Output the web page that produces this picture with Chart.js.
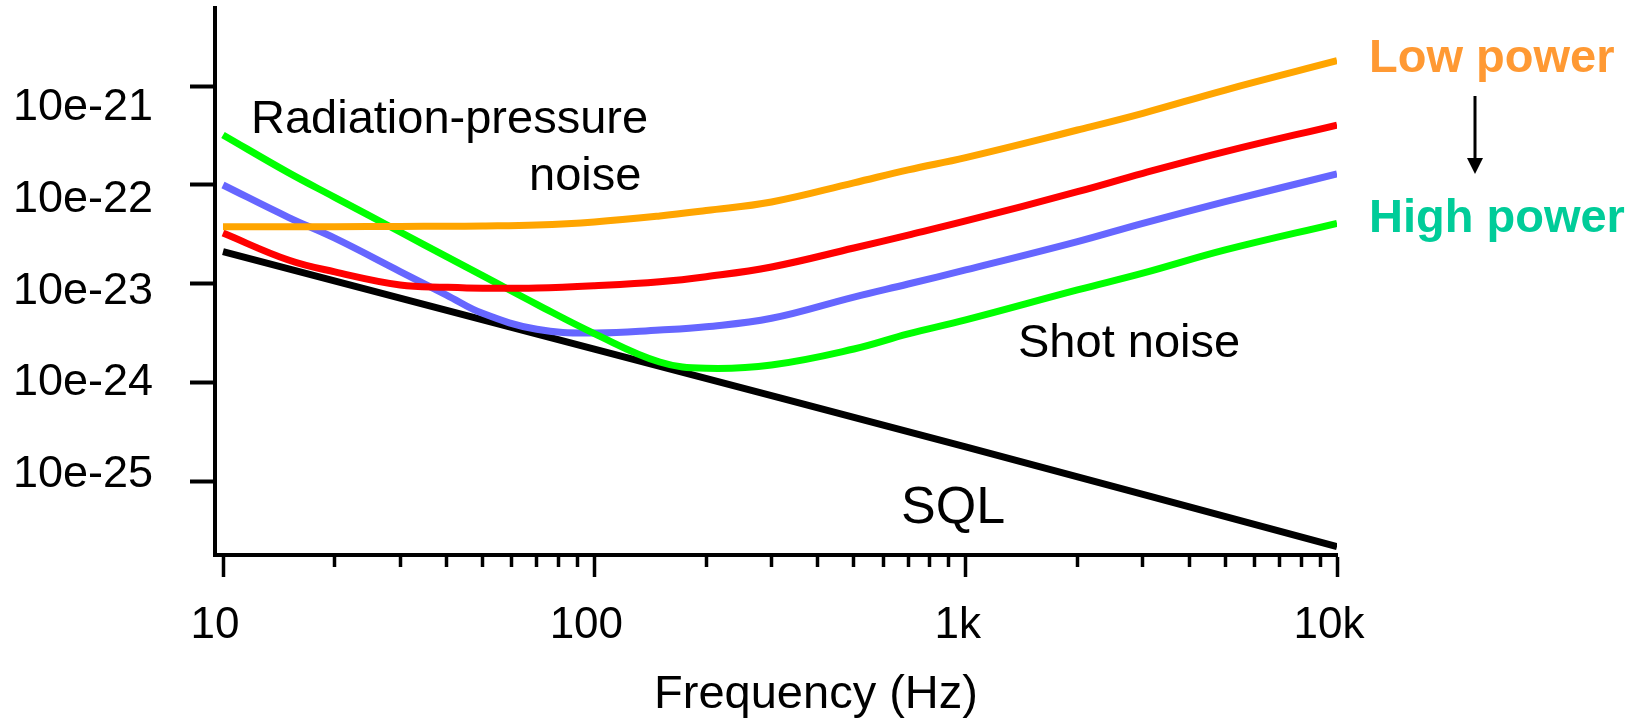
<!DOCTYPE html>
<html>
<head>
<meta charset="utf-8">
<script src="https://cdn.jsdelivr.net/npm/chart.js@4.4.1/dist/chart.umd.min.js"></script>
<style>
  html, body { margin: 0; padding: 0; background: #fff; }
  #wrap { width: 1644px; height: 718px; }
</style>
</head>
<body>
<div id="wrap"><canvas id="noise"></canvas></div>
<script>
// Frequencies (Hz) at which the curves were read
const freqs = [10, 15, 20, 30, 40, 50, 70, 100, 150, 200, 300, 500, 700, 1000, 2000, 3000, 5000, 10000];
// Strain noise for four laser powers, low -> high
const lowPower = [3.78e-23, 3.78e-23, 3.78e-23, 3.80e-23, 3.82e-23, 3.84e-23, 3.93e-23, 4.22e-23, 4.85e-23, 5.51e-23, 6.72e-23, 1.05e-22, 1.42e-22, 1.89e-22, 3.59e-22, 5.30e-22, 9.11e-22, 1.80e-21];
const midLowPower = [3.26e-23, 1.74e-23, 1.32e-23, 9.73e-24, 9.22e-24, 9.01e-24, 9.07e-24, 9.57e-24, 1.05e-23, 1.18e-23, 1.48e-23, 2.30e-23, 3.11e-23, 4.32e-23, 8.54e-23, 1.31e-22, 2.17e-22, 4.03e-22];
const midHighPower = [9.98e-23, 4.70e-23, 2.89e-23, 1.33e-23, 7.70e-24, 5.03e-24, 3.47e-24, 3.18e-24, 3.41e-24, 3.68e-24, 4.48e-24, 7.35e-24, 9.95e-24, 1.38e-23, 2.67e-23, 4.09e-23, 6.76e-23, 1.29e-22];
const highPower = [3.20e-22, 1.33e-22, 7.49e-23, 3.34e-23, 1.88e-23, 1.21e-23, 6.20e-24, 3.14e-24, 1.62e-24, 1.40e-24, 1.51e-24, 2.19e-24, 3.11e-24, 4.31e-24, 8.66e-24, 1.28e-23, 2.20e-23, 4.09e-23];
// Standard quantum limit
const sqlFreqs = [10, 100, 1000, 10000];
const sqlValues = [2.11e-23, 2.18e-24, 2.24e-25, 2.20e-26];

const yTicks = [1e-21, 1e-22, 1e-23, 1e-24, 1e-25];
const yTickLabels = ['10e-21', '10e-22', '10e-23', '10e-24', '10e-25'];
const xMajor = [10, 100, 1000, 10000];
const xMajorLabels = ['10', '100', '1k', '10k'];
const xMinor = [20, 30, 40, 50, 60, 70, 80, 90, 200, 300, 400, 500, 600, 700, 800, 900, 2000, 3000, 4000, 5000, 6000, 7000, 8000, 9000];

const FONT = "'Liberation Sans', Arial, sans-serif";
Chart.defaults.font.family = FONT;
Chart.defaults.color = '#000';

function points(xs, ys) {
  return xs.map((x, i) => ({ x: x, y: ys[i] }));
}
function fixTicks(values) {
  return (scale) => { scale.ticks = values.map((v) => ({ value: v })); };
}

// text and arrow drawn on top of the plot
const notes = [
  { text: 'Radiation-pressure', x: 251, y: 133, size: 47 },
  { text: 'noise', x: 529, y: 190, size: 47 },
  { text: 'Shot noise', x: 1018, y: 357, size: 47 },
  { text: 'SQL', x: 901, y: 523, size: 52 },
  { text: 'Low power', x: 1369, y: 72, size: 47, bold: true, color: '#ff9933' },
  { text: 'High power', x: 1369, y: 232, size: 47, bold: true, color: '#00cc99' },
  { text: 'Frequency (Hz)', x: 816, y: 708, size: 47, align: 'center' },
];
const annotate = {
  id: 'annotate',
  afterDraw(chart) {
    const ctx = chart.ctx;
    ctx.save();
    notes.forEach((n) => {
      ctx.font = (n.bold ? 'bold ' : '') + n.size + 'px ' + FONT;
      ctx.fillStyle = n.color || '#000';
      ctx.textAlign = n.align || 'left';
      ctx.textBaseline = 'alphabetic';
      ctx.fillText(n.text, n.x, n.y);
    });
    // low -> high power arrow
    ctx.strokeStyle = '#000';
    ctx.fillStyle = '#000';
    ctx.lineWidth = 3;
    ctx.beginPath();
    ctx.moveTo(1475, 96);
    ctx.lineTo(1475, 162);
    ctx.stroke();
    ctx.beginPath();
    ctx.moveTo(1467, 158);
    ctx.lineTo(1483, 158);
    ctx.lineTo(1475, 174);
    ctx.closePath();
    ctx.fill();
    ctx.restore();
  },
};

const line = (label, xs, ys, color) => ({
  label: label,
  data: points(xs, ys),
  borderColor: color,
  borderWidth: 7,
  pointRadius: 0,
  tension: 0.4,
  fill: false,
});

new Chart(document.getElementById('noise'), {
  type: 'line',
  data: {
    datasets: [
      line('Low power', freqs, lowPower, '#ffa500'),
      line('Power 2', freqs, midLowPower, '#ff0000'),
      line('High power', freqs, highPower, '#00ff00'),
      line('Power 3', freqs, midHighPower, '#6666ff'),
      line('SQL', sqlFreqs, sqlValues, '#000000'),
    ],
  },
  options: {
    responsive: true,
    maintainAspectRatio: false,
    animation: false,
    devicePixelRatio: 1,
    layout: { padding: { top: 8, right: 307, bottom: 0, left: 13 } },
    plugins: { legend: { display: false }, tooltip: { enabled: false } },
    scales: {
      x: {
        type: 'logarithmic',
        position: 'bottom',
        bounds: 'data',
        weight: 1,
        min: 9.516,
        max: 10000,
        afterBuildTicks: fixTicks(xMajor),
        afterFit: (s) => { s.height = 163; },
        ticks: {
          autoSkip: false,
          maxRotation: 0,
          padding: 22,
          labelOffset: -8,
          font: { size: 44 },
          callback: (v, i) => xMajorLabels[i],
        },
        grid: { drawOnChartArea: false, drawTicks: true, tickLength: 22, tickWidth: 3.5, tickColor: '#000' },
        border: { display: true, color: '#000', width: 4 },
      },
      xMinor: {
        type: 'logarithmic',
        position: 'bottom',
        bounds: 'data',
        weight: 0,
        min: 9.516,
        max: 10000,
        afterBuildTicks: fixTicks(xMinor),
        afterFit: (s) => { s.height = 0; },
        ticks: { display: false },
        grid: { drawOnChartArea: false, drawTicks: true, tickLength: 12, tickWidth: 3.5, tickColor: '#000' },
        border: { display: false },
      },
      y: {
        type: 'logarithmic',
        position: 'left',
        bounds: 'data',
        weight: 0,
        min: 1.811e-26,
        max: 6.147e-21,
        afterBuildTicks: fixTicks(yTicks),
        afterFit: (s) => { s.width = 0; },
        ticks: { display: false },
        grid: { drawOnChartArea: false, drawTicks: true, tickLength: 25, tickWidth: 4, tickColor: '#000' },
        border: { display: true, color: '#000', width: 4 },
      },
      yLabels: {
        type: 'logarithmic',
        position: 'left',
        bounds: 'data',
        weight: 1,
        min: 1.333e-26,
        max: 1.221e-20,
        afterBuildTicks: fixTicks(yTicks),
        afterFit: (s) => { s.width = 202; },
        ticks: {
          padding: 0,
          crossAlign: 'far',
          font: { size: 45, lineHeight: 0.3 },
          callback: (v, i) => yTickLabels[i],
        },
        grid: { display: false, drawTicks: false },
        border: { display: false },
      },
    },
  },
  plugins: [annotate],
});
</script>
</body>
</html>
